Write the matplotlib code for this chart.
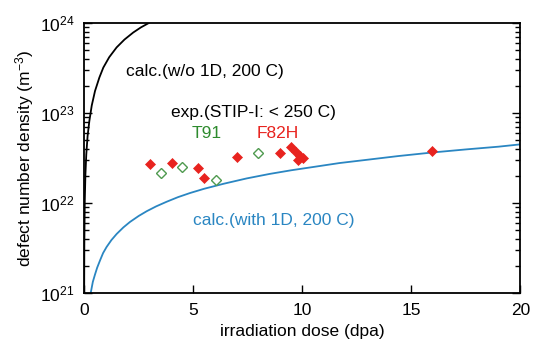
import numpy as np
import matplotlib
matplotlib.use("Agg")
import matplotlib.pyplot as plt
from matplotlib.ticker import LogLocator, NullFormatter

plt.rcParams["font.family"] = ["Liberation Sans", "DejaVu Sans"]
plt.rcParams["mathtext.fontset"] = "custom"
plt.rcParams["mathtext.rm"] = "Liberation Sans"
plt.rcParams["mathtext.it"] = "Liberation Sans:italic"

# calc. without 1D motion
wo1d_dose = [0.003, 0.01, 0.03, 0.06, 0.1, 0.16, 0.24, 0.35, 0.5, 0.7, 0.88,
             1.15, 1.49, 1.85, 2.25, 2.6, 2.94, 3.2]
wo1d_dens = [1.0e21, 3.5e21, 1.05e22, 2.1e22, 3.5e22, 5.6e22, 8.2e22, 1.22e23,
             1.77e23, 2.5e23, 3.22e23, 4.2e23, 5.4e23, 6.6e23, 7.9e23, 9.0e23,
             1.0e24, 1.1e24]

# calc. with 1D motion
w1d_dose = [0.30, 0.40, 0.50, 0.60, 0.73, 0.87, 1.03, 1.25, 1.49, 1.80, 2.10,
            2.50, 2.87, 3.30, 3.78, 4.30, 4.85, 5.5, 6.4, 7.45, 8.5, 9.5,
            10.49, 11.7, 12.94, 14.4, 15.96, 17.5, 19.0, 20.0]
w1d_dens = [1.0e21, 1.34e21, 1.62e21, 1.93e21, 2.32e21, 2.80e21, 3.27e21,
            3.90e21, 4.56e21, 5.40e21, 6.20e21, 7.23e21, 8.17e21, 9.24e21,
            1.04e22, 1.17e22, 1.30e22, 1.45e22, 1.65e22, 1.89e22, 2.12e22,
            2.33e22, 2.53e22, 2.80e22, 3.04e22, 3.35e22, 3.67e22, 3.97e22,
            4.26e22, 4.52e22]

# experiment STIP-I
f82h_dose = [3.02, 4.01, 5.20, 5.50, 6.99, 9.00, 9.49, 9.73, 9.89, 10.01, 9.81, 15.96]
f82h_dens = [2.71e22, 2.78e22, 2.45e22, 1.93e22, 3.27e22, 3.6e22, 4.17e22, 3.67e22,
             3.36e22, 3.22e22, 3.03e22, 3.78e22]
t91_dose = [3.51, 4.47, 6.03, 7.98]
t91_dens = [2.19e22, 2.56e22, 1.81e22, 3.63e22]

blue = "#2a86c2"
red = "#e8231f"
green = "#2e8b2e"

fig = plt.figure(figsize=(5.34, 3.49), dpi=100)
ax = fig.add_axes([0.1575, 0.1596, 0.8172, 0.7736])

ax.plot(wo1d_dose, wo1d_dens, color="black", lw=1.3)
ax.plot(w1d_dose, w1d_dens, color=blue, lw=1.3)
ax.plot(t91_dose, t91_dens, ls="none", marker="D", ms=5, mfc="white",
        mec="#4f9a4f", mew=1.0)
ax.plot(f82h_dose, f82h_dens, ls="none", marker="D", ms=5, mfc=red,
        mec=red, mew=0.5)

ax.set_yscale("log")
ax.set_xlim(0, 20)
ax.set_ylim(1e21, 1e24)
ax.set_xticks([0, 5, 10, 15, 20])
ax.yaxis.set_major_locator(LogLocator(base=10, numticks=10))
ax.yaxis.set_minor_locator(LogLocator(base=10, subs=np.arange(2, 10), numticks=10))
ax.yaxis.set_minor_formatter(NullFormatter())
ax.tick_params(axis="both", which="both", direction="in", labelsize=12.5, pad=7)
ax.tick_params(axis="y", which="both", left=True, right=True)
ax.tick_params(axis="y", which="major", length=6, width=1)
ax.tick_params(axis="y", which="minor", length=3.5, width=1)
ax.tick_params(axis="x", which="major", length=6, width=1, top=False)
for s in ax.spines.values():
    s.set_linewidth(1.3)

ax.set_xlabel("irradiation dose (dpa)", fontsize=12.5, labelpad=4)
ax.set_ylabel("defect number density (m$^{-3}$)", fontsize=12.5, labelpad=3)

ax.text(1.9, 2.95e23, "calc.(w/o 1D, 200 C)", fontsize=12.5, va="center")
ax.text(4.0, 1.02e23, "exp.(STIP-I: < 250 C)", fontsize=12.5, va="center")
ax.text(4.93, 5.9e22, "T91", fontsize=12.5, va="center", color=green)
ax.text(7.9, 5.9e22, "F82H", fontsize=12.5, va="center", color=red)
ax.text(5.0, 6.4e21, "calc.(with 1D, 200 C)", fontsize=12.5, va="center", color=blue)

fig.savefig("out.png", dpi=100)
